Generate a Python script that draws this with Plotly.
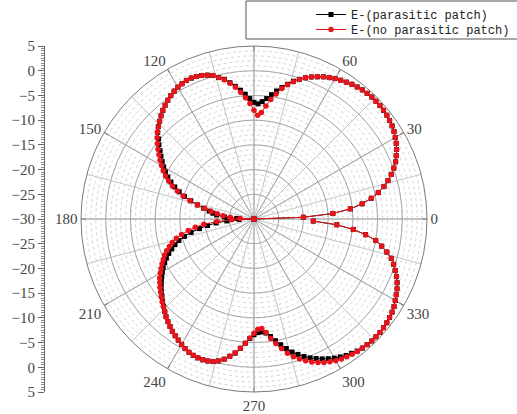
import plotly.graph_objects as go

# Measurement angles (degrees) and E-plane gain (dB)
angles = list(range(0, 360, 2))

e_parasitic = [
    -30, -20.0, -14.0, -10.4, -7.9, -5.9, -4.3, -2.9, -1.8, -0.8,
    0.1, 0.9, 1.5, 2.1, 2.6, 3.0, 3.4, 3.7, 3.9, 4.1,
    4.2, 4.3, 4.3, 4.3, 4.2, 4.1, 3.9, 3.7, 3.4, 3.1,
    2.8, 2.4, 2.0, 1.5, 1.0, 0.4, -0.3, -1.0, -1.9, -2.8,
    -3.7, -4.6, -5.5, -6.2, -6.7, -6.4, -5.6, -4.7, -3.8, -2.9,
    -2.0, -1.1, -0.5, 0.2, 0.6, 0.9, 1.1, 1.2, 1.2, 1.0,
    0.8, 0.5, 0.1, -0.3, -0.8, -1.3, -1.9, -2.5, -3.1, -3.8,
    -4.8, -5.6, -6.5, -7.3, -8.1, -8.9, -9.7, -10.6, -11.6, -12.7,
    -13.9, -15.2, -16.7, -18.2, -19.6, -20.8, -21.6, -22.4, -24.0, -26.5,
    -30, -27.0, -24.5, -22.3, -20.5, -18.8, -17.0, -15.5, -14.2, -13.2,
    -12.3, -11.4, -10.6, -9.9, -9.2, -8.6, -8.0, -7.4, -6.8, -6.2,
    -5.7, -5.1, -4.6, -4.0, -3.4, -2.9, -2.4, -1.9, -1.5, -1.1,
    -0.7, -0.3, 0.0, 0.2, 0.3, 0.3, 0.2, 0.0, -0.4, -1.0,
    -1.8, -2.6, -3.7, -4.8, -5.8, -6.6, -7.0, -7.1, -6.8, -6.0,
    -5.0, -4.0, -3.0, -2.0, -1.2, -0.4, 0.3, 0.9, 1.5, 2.0,
    2.5, 2.9, 3.3, 3.6, 3.9, 4.1, 4.2, 4.3, 4.3, 4.3,
    4.2, 4.1, 3.9, 3.7, 3.4, 3.0, 2.6, 2.2, 1.7, 1.1,
    0.4, -0.3, -1.1, -2.3, -3.6, -5.0, -7.2, -9.8, -13.2, -18.0,
]

e_no_parasitic = [
    -30, -20.0, -14.0, -10.4, -7.9, -5.9, -4.3, -2.9, -1.8, -0.8,
    0.1, 0.9, 1.5, 2.1, 2.6, 3.0, 3.4, 3.7, 3.9, 4.1,
    4.2, 4.3, 4.3, 4.3, 4.2, 4.1, 3.9, 3.7, 3.4, 3.1,
    2.8, 2.4, 2.0, 1.5, 1.0, 0.4, -0.3, -1.1, -2.0, -3.0,
    -4.3, -5.6, -7.0, -8.4, -9.0, -8.0, -6.6, -5.4, -4.2, -3.1,
    -2.1, -1.2, -0.5, 0.2, 0.6, 0.9, 1.1, 1.2, 1.2, 1.0,
    0.8, 0.5, 0.1, -0.3, -0.8, -1.3, -1.9, -2.5, -3.1, -3.7,
    -4.4, -5.2, -6.0, -6.8, -7.6, -8.4, -9.2, -10.1, -11.1, -12.2,
    -13.5, -14.9, -16.5, -18.2, -19.8, -21.2, -22.5, -23.7, -25.2, -27.2,
    -30, -25.5, -22.5, -19.8, -18.0, -16.5, -15.0, -13.8, -12.8, -12.0,
    -11.2, -10.5, -9.9, -9.3, -8.7, -8.1, -7.5, -7.0, -6.5, -6.0,
    -5.5, -5.0, -4.5, -4.0, -3.4, -2.9, -2.4, -1.9, -1.5, -1.1,
    -0.7, -0.3, 0.0, 0.2, 0.3, 0.3, 0.2, 0.0, -0.4, -1.0,
    -1.8, -2.7, -3.7, -4.8, -5.9, -6.9, -7.7, -7.8, -6.9, -5.6,
    -4.4, -3.2, -2.0, -1.0, -0.2, 0.5, 1.2, 1.8, 2.3, 2.7,
    3.1, 3.4, 3.6, 3.8, 4.0, 4.1, 4.2, 4.3, 4.3, 4.3,
    4.2, 4.1, 3.9, 3.7, 3.4, 3.0, 2.6, 2.2, 1.7, 1.1,
    0.4, -0.3, -1.1, -2.3, -3.6, -5.0, -7.2, -9.8, -13.2, -18.0,
]

angle_ticks = list(range(0, 360, 30))
angle_labels = ["" if a == 90 else str(a) for a in angle_ticks]

r_min, r_max = -30, 5
# left scale reads 5 ... -30 (centre) ... 5
scale_pos = list(range(0, 71, 5))
scale_labels = [str(5 - p) if p <= 35 else str(p - 65) for p in scale_pos]
scale_labels = [s.replace("-", "\u2212") for s in scale_labels]

W, H = 517, 414
cx, cy, R = 254, 219, 173
dom_x = [(cx - R) / W, (cx + R) / W]
dom_y = [(H - cy - R) / H, (H - cy + R) / H]

serif = "Liberation Serif"
label_col = "#444444"
mono = dict(family="Liberation Mono", size=12, color="#222222")

fig = go.Figure()

# empty trace so the fine-grid polar layer is rendered
fig.add_trace(go.Scatterpolar(r=[None], theta=[None], subplot="polar",
                              showlegend=False, hoverinfo="skip"))

fig.add_trace(go.Scatterpolar(
    r=e_parasitic, theta=angles, subplot="polar2",
    mode="lines+markers", name="E-(parasitic patch)", legend="legend",
    line=dict(color="black", width=1),
    marker=dict(symbol="square", size=5, color="black"),
))
fig.add_trace(go.Scatterpolar(
    r=e_no_parasitic, theta=angles, subplot="polar2",
    mode="lines+markers", name="E-(no parasitic patch)", legend="legend2",
    line=dict(color="#e8141b", width=1),
    marker=dict(symbol="circle", size=5.5, color="#e8141b"),
))

# anchor trace for the linear dB scale on the left
fig.add_trace(go.Scatter(x=[None], y=[None], showlegend=False, hoverinfo="skip"))

fine_grid = dict(
    radialaxis=dict(range=[r_min, r_max], tick0=r_min, dtick=1, showticklabels=False,
                    ticks="", showline=False, gridcolor="#d4d4d4", gridwidth=0.6,
                    griddash="dot"),
    angularaxis=dict(dtick=15, showticklabels=False, ticks="", showline=False,
                     gridcolor="#c4c4c4", gridwidth=0.6, rotation=0,
                     direction="counterclockwise"),
)

legend_common = dict(xanchor="left", yanchor="top", bgcolor="rgba(0,0,0,0)",
                     borderwidth=0, font=mono, tracegroupgap=0)

fig.update_layout(
    width=W, height=H,
    margin=dict(l=0, r=0, t=0, b=0, autoexpand=False),
    paper_bgcolor="white", plot_bgcolor="rgba(0,0,0,0)",
    polar=dict(domain=dict(x=dom_x, y=dom_y), bgcolor="white", **fine_grid),
    polar2=dict(
        domain=dict(x=dom_x, y=dom_y), bgcolor="rgba(0,0,0,0)",
        radialaxis=dict(range=[r_min, r_max], tick0=r_min, dtick=5, showticklabels=False,
                        ticks="", showline=False, gridcolor="#a6a6a6", gridwidth=0.8),
        angularaxis=dict(tickmode="array", tickvals=angle_ticks, ticktext=angle_labels,
                         rotation=0, direction="counterclockwise",
                         gridcolor="#a6a6a6", gridwidth=0.8,
                         showline=True, linecolor="#7a7a7a", linewidth=1,
                         ticks="inside", ticklen=4, tickcolor="#7a7a7a",
                         tickfont=dict(family=serif, size=15, color=label_col)),
    ),
    xaxis=dict(domain=[0, 0.08], visible=False, range=[0, 1]),
    yaxis=dict(domain=dom_y, range=[0, 70], anchor="free", position=44 / W,
               tickmode="array", tickvals=scale_pos, ticktext=scale_labels,
               ticks="outside", ticklen=6, tickcolor="#666666", tickwidth=1,
               showline=True, linecolor="#666666", linewidth=1,
               showgrid=False, zeroline=False,
               minor=dict(tickmode="array", tickvals=[i * 0.5 for i in range(141)],
                          ticks="outside", ticklen=3, tickcolor="#888888", showgrid=False),
               tickfont=dict(family=serif, size=15, color=label_col)),
    showlegend=True,
    legend=dict(x=311 / W, y=1.0, **legend_common),
    legend2=dict(x=311 / W, y=1 - 15 / H, **legend_common),
    shapes=[dict(type="rect", xref="paper", yref="paper",
                 x0=246 / W, x1=1.01, y0=1 - 39 / H, y1=1 - 1 / H,
                 line=dict(color="#555555", width=1), fillcolor="white", layer="above")],
)

fig.write_html("out.html")
